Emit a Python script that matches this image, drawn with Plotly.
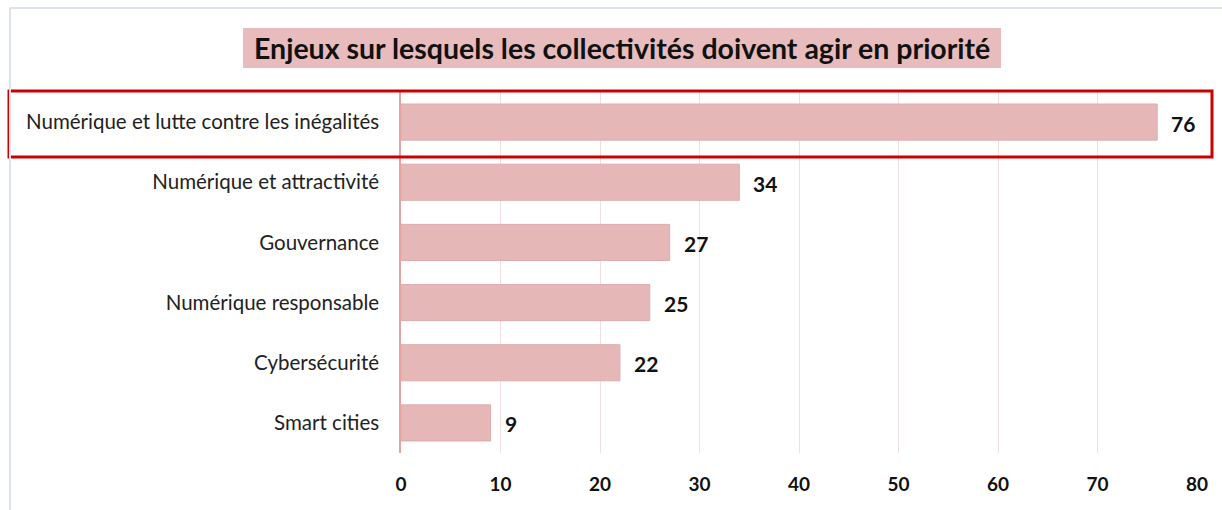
import plotly.graph_objects as go

categories = ["Numérique et lutte contre les inégalités", "Numérique et attractivité",
              "Gouvernance", "Numérique responsable", "Cybersécurité", "Smart cities"]
values = [76, 34, 27, 25, 22, 9]
x_ticks = [0, 10, 20, 30, 40, 50, 60, 70, 80]
title_text = "Enjeux sur lesquels les collectivités doivent agir en priorité"

W, H = 1222, 510
L, R, T, B = 401, 25, 92, 57

fig = go.Figure()
fig.add_trace(go.Bar(
    y=categories, x=values, orientation="h",
    marker=dict(color="#e6b7b7", line=dict(color="#deacac", width=1)),
    width=0.6, hoverinfo="skip",
))

for c, v in zip(categories, values):
    fig.add_annotation(x=v, y=c, text="<b>%d</b>" % v, showarrow=False,
                       xanchor="left", yanchor="middle", xshift=12, yshift=-1,
                       font=dict(family="Lato", size=21, color="#111111"))

def px_x(p):
    return (p - L) / (W - L - R)

def px_y(p):
    return 1 - (p - T) / (H - T - B)

fig.update_layout(
    width=W, height=H,
    margin=dict(l=L, r=R, t=T, b=B),
    paper_bgcolor="white", plot_bgcolor="white",
    showlegend=False,
    xaxis=dict(range=[0, 80], tickvals=x_ticks, showgrid=True, gridcolor="#f1dede",
               gridwidth=1, zeroline=False, showline=False,
               tickfont=dict(family="Lato", size=19, color="#111111", weight="bold"),
               ticks="", ticklabelstandoff=18),
    yaxis=dict(categoryorder="array", categoryarray=categories[::-1],
               showline=True, linecolor="#e6a3a3", linewidth=1.5,
               tickfont=dict(family="Lato", size=20.5, color="#222222"),
               ticks="", ticklabelstandoff=16, range=[-0.5, 5.5]),
    font=dict(family="Lato"),
)

# title box
fig.add_shape(type="rect", xref="paper", yref="paper",
              x0=px_x(243), x1=px_x(1001), y0=px_y(68), y1=px_y(28),
              fillcolor="#e8bcbc", line=dict(width=0), layer="below")
fig.add_annotation(text="<b>" + title_text + "</b>", xref="paper", yref="paper",
                   x=px_x(622), y=px_y(48), showarrow=False,
                   font=dict(family="Lato", size=28.5, color="#111111"),
                   xanchor="center", yanchor="middle")

# red highlight box
fig.add_shape(type="rect", xref="paper", yref="paper",
              x0=px_x(9), x1=px_x(1212), y0=px_y(157), y1=px_y(91),
              line=dict(color="#cc0000", width=3), fillcolor="rgba(0,0,0,0)")

# outer frame lines
fig.add_shape(type="line", xref="paper", yref="paper",
              x0=px_x(10), x1=px_x(10), y0=px_y(8), y1=px_y(510),
              line=dict(color="#dde3ee", width=2))
fig.add_shape(type="line", xref="paper", yref="paper",
              x0=px_x(10), x1=px_x(1222), y0=px_y(8), y1=px_y(8),
              line=dict(color="#dde3ee", width=2))

fig.write_html("out.html", config={"displayModeBar": False},
               post_script="document.body.style.margin='0';document.body.style.padding='0';document.body.style.overflow='hidden';")
